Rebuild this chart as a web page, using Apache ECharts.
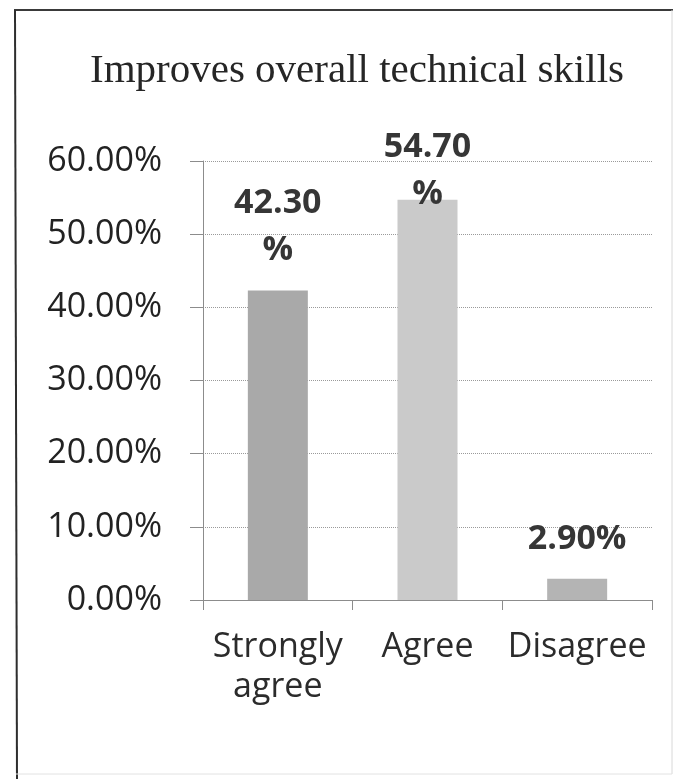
<!DOCTYPE html>
<html>
<head>
<meta charset="utf-8">
<script src="https://cdn.jsdelivr.net/npm/echarts@6/dist/echarts.min.js"></script>
<style>
  html, body { margin: 0; padding: 0; background: #ffffff; }
  #chart { width: 685px; height: 779px; }
</style>
</head>
<body>
<div id="chart"></div>
<script>
// Survey responses: "Improves overall technical skills"
const titleText = 'Improves overall technical skills';
const categories = ['Strongly\nagree', 'Agree', 'Disagree'];
const percentages = [42.3, 54.7, 2.9];
const barColors = ['#a9a9a9', '#cacaca', '#b4b4b4'];
const yTicks = { min: 0, max: 60, interval: 10 };

const chart = echarts.init(document.getElementById('chart'), null, { renderer: 'canvas' });

// Label text: two decimals and a percent sign; longer values wrap the sign onto its own line
function valueLabel(p) {
  const s = p.value.toFixed(2);
  return s.length >= 5 ? s + '\n%' : s + '%';
}

// The tallest bar's label sits lower, just over its top edge
const labelDistances = [17, -18, 16];

const seriesData = percentages.map((v, i) => ({
  value: v,
  itemStyle: { color: barColors[i] },
  label: { distance: labelDistances[i] }
}));

chart.setOption({
  backgroundColor: '#ffffff',
  animation: false,
  title: {
    text: titleText,
    left: 352,
    textAlign: 'center',
    top: 46,
    textStyle: {
      fontFamily: '"Liberation Serif", "Times New Roman", serif',
      fontSize: 41,
      fontWeight: 'normal',
      color: '#262626'
    }
  },
  graphic: [
    // frame around the chart
    { type: 'line', shape: { x1: 14, y1: 10, x2: 673, y2: 10 }, style: { stroke: '#3a3a3a', lineWidth: 2 } },
    { type: 'line', shape: { x1: 15, y1: 10, x2: 17, y2: 779 }, style: { stroke: '#2e2e2e', lineWidth: 2 } },
    { type: 'line', shape: { x1: 672, y1: 10, x2: 672, y2: 774 }, style: { stroke: '#d8d8d8', lineWidth: 1 } },
    { type: 'line', shape: { x1: 16, y1: 774, x2: 672, y2: 774 }, style: { stroke: '#e2e2e2', lineWidth: 1 } }
  ],
  grid: { left: 203, right: 33, top: 161, bottom: 179 },
  xAxis: {
    type: 'category',
    data: categories,
    axisLine: { show: true, lineStyle: { color: '#8c8c8c', width: 1 } },
    axisTick: { show: true, length: 10, alignWithLabel: false, lineStyle: { color: '#8c8c8c' } },
    axisLabel: {
      margin: 27,
      interval: 0,
      fontFamily: '"Open Sans", "Noto Sans", sans-serif',
      fontSize: 34,
      lineHeight: 40,
      color: '#2b2b2b'
    }
  },
  yAxis: {
    type: 'value',
    min: yTicks.min,
    max: yTicks.max,
    interval: yTicks.interval,
    axisLine: { show: true, lineStyle: { color: '#8c8c8c', width: 1 } },
    axisTick: { show: true, length: 13, lineStyle: { color: '#8c8c8c' } },
    splitLine: { show: true, lineStyle: { color: '#9a9a9a', width: 1, type: 'dotted' } },
    axisLabel: {
      margin: 41,
      fontFamily: '"Open Sans", "Noto Sans", sans-serif',
      fontSize: 34,
      color: '#222222',
      formatter: v => v.toFixed(2) + '%'
    }
  },
  series: [{
    type: 'bar',
    data: seriesData,
    barWidth: 60,
    label: {
      show: true,
      position: 'top',
      formatter: valueLabel,
      fontFamily: '"Open Sans", "Noto Sans", sans-serif',
      fontWeight: 'bold',
      fontSize: 34,
      lineHeight: 47,
      color: '#363636'
    }
  }]
});
</script>
</body>
</html>
